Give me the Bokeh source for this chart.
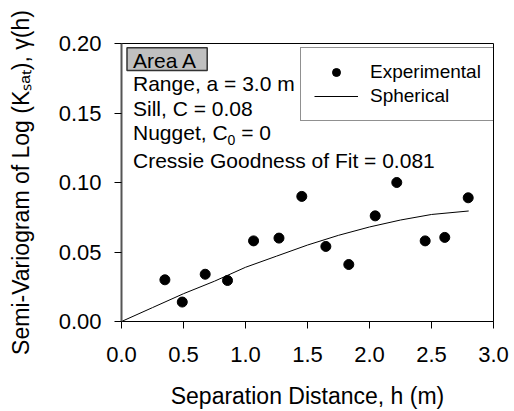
import numpy as np
from bokeh.plotting import figure
from bokeh.models import Label, FixedTicker, PrintfTickFormatter, Range1d, BoxAnnotation
from bokeh.embed import file_html
from bokeh.resources import INLINE

# ---- data ----
sep_h = [0.35, 0.49, 0.675, 0.855, 1.065, 1.27, 1.454, 1.648, 1.833, 2.046, 2.22, 2.449, 2.607, 2.796]
gamma_exp = [0.030, 0.014, 0.034, 0.0295, 0.058, 0.060, 0.090, 0.054, 0.041, 0.076, 0.100, 0.058, 0.0605, 0.089]

curve_h = [0.0, 0.25, 0.5, 0.75, 1.0, 1.25, 1.5, 1.75, 2.0, 2.25, 2.5, 2.8]
curve_g = [0.0, 0.010, 0.020, 0.029, 0.039, 0.047, 0.055, 0.062, 0.068, 0.073, 0.077, 0.0795]

x_ticks = [0.0, 0.5, 1.0, 1.5, 2.0, 2.5, 3.0]
y_ticks = [0.0, 0.05, 0.10, 0.15, 0.20]

FONT = "Liberation Sans"

# Arial / Liberation Sans advance widths (per 1000 em)
W = {' ': 278, '(': 333, ')': 333, ',': 278, '-': 333, '.': 278, '=': 584,
     'A': 667, 'C': 722, 'K': 667, 'L': 556, 'N': 722, 'S': 667, 'V': 667,
     'a': 556, 'e': 556, 'g': 556, 'h': 556, 'i': 222, 'm': 833, 'n': 556,
     'o': 556, 'r': 333, 's': 500, 't': 278, 'u': 556, 'f': 278}
for d in "0123456789":
    W[d] = 556


def tw(s, size):
    return sum(W.get(c, 556) for c in s) * size / 1000.0


p = figure(width=514, height=411, output_backend="svg", toolbar_location=None,
           x_range=Range1d(0, 3.0), y_range=Range1d(0, 0.20),
           min_border_left=121, min_border_right=21, min_border_top=43,
           min_border_bottom=90)
p.background_fill_color = "white"
p.border_fill_color = "white"
p.outline_line_color = "black"
p.outline_line_width = 1
p.xgrid.visible = False
p.ygrid.visible = False

p.line(curve_h, curve_g, line_color="black", line_width=1, legend_label="Spherical")
p.scatter(sep_h, gamma_exp, size=10, marker="circle", fill_color="black",
          line_color="black", legend_label="Experimental")

# axes
for ax in (p.xaxis[0], p.yaxis[0]):
    ax.major_tick_out = 7
    ax.major_tick_in = 0
    ax.minor_tick_out = 0
    ax.minor_tick_in = 0
    ax.major_tick_line_color = "black"
    ax.major_label_text_font = FONT
    ax.major_label_text_font_size = "22px"
    ax.major_label_text_color = "black"
    ax.axis_label_text_font = FONT
    ax.axis_label_text_font_style = "normal"
    ax.axis_label_text_color = "black"
    ax.axis_label_text_font_size = "23px"

p.xaxis[0].ticker = FixedTicker(ticks=x_ticks)
p.xaxis[0].formatter = PrintfTickFormatter(format="%.1f")
p.xaxis[0].axis_line_color = "black"
p.xaxis[0].major_label_standoff = 18
p.xaxis[0].axis_label = "Separation Distance, h (m)"
p.xaxis[0].axis_label_standoff = 18

p.yaxis[0].ticker = FixedTicker(ticks=y_ticks)
p.yaxis[0].formatter = PrintfTickFormatter(format="%.2f")
p.yaxis[0].axis_line_color = "#555555"
p.yaxis[0].axis_line_width = 2
p.yaxis[0].major_label_standoff = 13
p.yaxis[0].axis_label = "Semi-Variogram of Log (K\u209b\u2090\u209c), \u03b3(h)"
p.yaxis[0].axis_label_standoff = 22

# ---- annotation block ----
ann_sz = 21
tx = 11.5
DY = 7  # baseline correction
p.add_layout(BoxAnnotation(left=5.5, right=85.7, top=273.7, bottom=251.0,
                           left_units="screen", right_units="screen",
                           top_units="screen", bottom_units="screen",
                           fill_color="#c0c0c0", fill_alpha=1.0,
                           line_color="#333333", line_width=1.5, line_alpha=1.0))
p.add_layout(Label(x=tx, y=254.5 + DY, x_units="screen", y_units="screen", text="Area A",
                   text_font=FONT, text_font_size=f"{ann_sz}px",
                   text_align="left", text_baseline="alphabetic", text_color="black"))
for txt, yy in (("Range, a = 3.0 m", 231.3), ("Sill, C = 0.08", 206.5),
                ("Cressie Goodness of Fit = 0.081", 154.3)):
    p.add_layout(Label(x=tx, y=yy + DY, x_units="screen", y_units="screen", text=txt,
                       text_font=FONT, text_font_size=f"{ann_sz}px",
                       text_align="left", text_baseline="alphabetic", text_color="black"))

# "Nugget, C0 = 0" with a subscript zero
n1, n_sub, n2 = "Nugget, C", "0", "= 0"
nx = tx
p.add_layout(Label(x=nx, y=182.5 + DY, x_units="screen", y_units="screen", text=n1,
                   text_font=FONT, text_font_size=f"{ann_sz}px",
                   text_align="left", text_baseline="alphabetic", text_color="black"))
nx += tw(n1, ann_sz)
p.add_layout(Label(x=nx, y=175.0 + DY, x_units="screen", y_units="screen", text=n_sub,
                   text_font=FONT, text_font_size="14px",
                   text_align="left", text_baseline="alphabetic", text_color="black"))
nx += tw(n_sub, 14) + tw(" ", ann_sz)
p.add_layout(Label(x=nx, y=182.5 + DY, x_units="screen", y_units="screen", text=n2,
                   text_font=FONT, text_font_size=f"{ann_sz}px",
                   text_align="left", text_baseline="alphabetic", text_color="black"))

# ---- legend ----
lg = p.legend[0]
lg.items = [lg.items[1], lg.items[0]]
lg.location = (179, 200)
lg.padding = 13
lg.spacing = 2
lg.glyph_width = 44
lg.glyph_height = 20
lg.label_height = 20
lg.label_standoff = 12
lg.label_text_font = FONT
lg.label_text_font_size = "19px"
lg.label_text_color = "black"
lg.border_line_color = "#222222"
lg.border_line_width = 1.5
lg.background_fill_alpha = 1.0
lg.margin = 0

open("out.html", "w").write(file_html(p, INLINE))
